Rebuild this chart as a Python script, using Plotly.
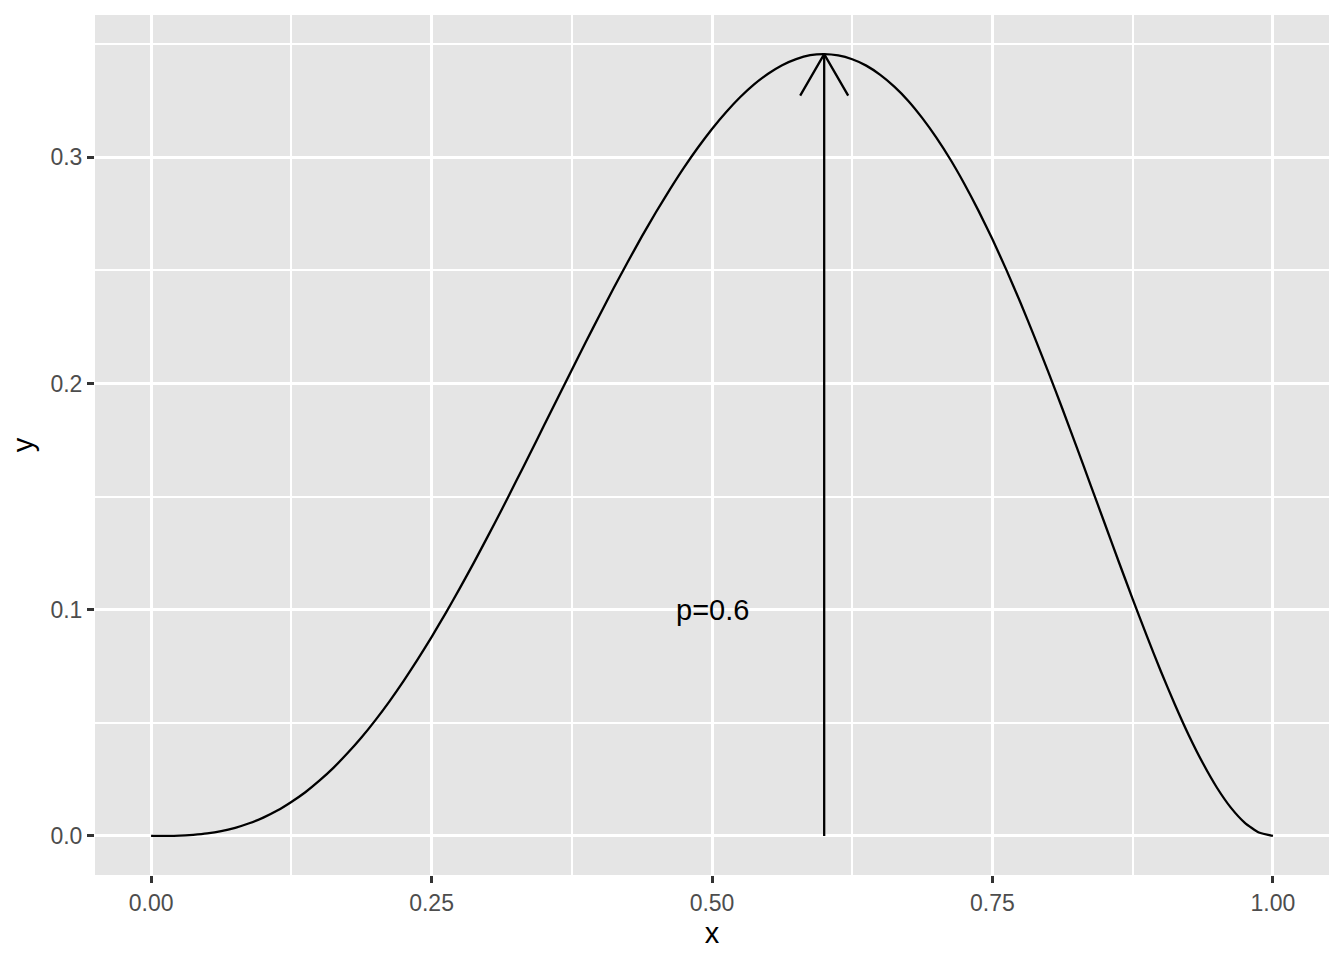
import plotly.graph_objects as go

# Curve values
x_vals = [0.0000, 0.0125, 0.0250, 0.0375, 0.0500, 0.0625, 0.0750, 0.0875, 0.1000, 0.1125,
          0.1250, 0.1375, 0.1500, 0.1625, 0.1750, 0.1875, 0.2000, 0.2125, 0.2250, 0.2375,
          0.2500, 0.2625, 0.2750, 0.2875, 0.3000, 0.3125, 0.3250, 0.3375, 0.3500, 0.3625,
          0.3750, 0.3875, 0.4000, 0.4125, 0.4250, 0.4375, 0.4500, 0.4625, 0.4750, 0.4875,
          0.5000, 0.5125, 0.5250, 0.5375, 0.5500, 0.5625, 0.5750, 0.5875, 0.6000, 0.6125,
          0.6250, 0.6375, 0.6500, 0.6625, 0.6750, 0.6875, 0.7000, 0.7125, 0.7250, 0.7375,
          0.7500, 0.7625, 0.7750, 0.7875, 0.8000, 0.8125, 0.8250, 0.8375, 0.8500, 0.8625,
          0.8750, 0.8875, 0.9000, 0.9125, 0.9250, 0.9375, 0.9500, 0.9625, 0.9750, 0.9875, 1.0000]
y_vals = [0.0000, 0.0000, 0.0001, 0.0005, 0.0011, 0.0021, 0.0036, 0.0056, 0.0081, 0.0112,
          0.0150, 0.0193, 0.0244, 0.0301, 0.0365, 0.0435, 0.0512, 0.0595, 0.0684, 0.0779,
          0.0879, 0.0984, 0.1093, 0.1206, 0.1323, 0.1442, 0.1564, 0.1687, 0.1812, 0.1936,
          0.2060, 0.2183, 0.2304, 0.2423, 0.2538, 0.2650, 0.2757, 0.2858, 0.2954, 0.3043,
          0.3125, 0.3199, 0.3265, 0.3322, 0.3369, 0.3407, 0.3434, 0.3451, 0.3456, 0.3450,
          0.3433, 0.3405, 0.3364, 0.3312, 0.3249, 0.3173, 0.3087, 0.2990, 0.2882, 0.2764,
          0.2637, 0.2501, 0.2357, 0.2205, 0.2048, 0.1886, 0.1720, 0.1551, 0.1382, 0.1213,
          0.1047, 0.0885, 0.0729, 0.0582, 0.0445, 0.0322, 0.0214, 0.0125, 0.0058, 0.0015, 0.0000]

# Arrow (from base to tip) and label
arrow_x = [0.6, 0.6]
arrow_y = [0.0, 0.3456]
label_text = "p=0.6"
label_x = 0.5
label_y = 0.1

x_ticks = [0.0, 0.25, 0.5, 0.75, 1.0]
y_ticks = [0.0, 0.1, 0.2, 0.3]

FONT = "Liberation Sans, Arial, Helvetica, sans-serif"
LW = 2.3

fig = go.Figure()
fig.add_trace(go.Scatter(x=x_vals, y=y_vals, mode="lines",
                         line=dict(color="black", width=LW, shape="spline", smoothing=0.5),
                         hoverinfo="skip", showlegend=False))
fig.add_trace(go.Scatter(x=arrow_x, y=arrow_y, mode="lines", line=dict(color="black", width=LW),
                         hoverinfo="skip", showlegend=False))

# Open arrowhead (ggplot-like), size in pixel terms converted to data units
ax_rng = [-0.05, 1.05]
ay_rng = [-0.01728, 0.36288]
ML, MR, MT, MB = 95, 15, 15, 85
plot_w = 1344 - ML - MR
plot_h = 960 - MT - MB
dx = 24 / (plot_w / (ax_rng[1] - ax_rng[0]))
dy = 41.6 / (plot_h / (ay_rng[1] - ay_rng[0]))
tx, ty = arrow_x[1], arrow_y[1]
fig.add_trace(go.Scatter(x=[tx - dx, tx, tx + dx], y=[ty - dy, ty, ty - dy], mode="lines",
                         line=dict(color="black", width=LW), hoverinfo="skip", showlegend=False))

fig.add_annotation(x=label_x, y=label_y, text=label_text, showarrow=False,
                   font=dict(family=FONT, size=29, color="black"), xanchor="center", yanchor="middle")

axis_common = dict(
    showgrid=True, gridcolor="white", gridwidth=3,
    zeroline=False, showline=False,
    ticks="outside", ticklen=7, tickwidth=2.5, tickcolor="#333333",
    tickfont=dict(family=FONT, size=23, color="#4d4d4d"),
)

fig.update_layout(
    width=1344, height=960,
    margin=dict(l=ML, r=MR, t=MT, b=MB),
    paper_bgcolor="white", plot_bgcolor="#E5E5E5",
    font=dict(family=FONT),
    hovermode=False,
    xaxis=dict(range=ax_rng, tickvals=x_ticks, tickformat=".2f",
               minor=dict(dtick=0.125, tick0=0.125, showgrid=True, gridcolor="white", gridwidth=1.5, ticks=""),
               title=dict(text="x", font=dict(family=FONT, size=29, color="black"), standoff=8),
               **axis_common),
    yaxis=dict(range=ay_rng, tickvals=y_ticks, tickformat=".1f",
               minor=dict(dtick=0.05, tick0=0.05, showgrid=True, gridcolor="white", gridwidth=1.5, ticks=""),
               title=dict(text="y", font=dict(family=FONT, size=29, color="black"), standoff=8),
               **axis_common),
)

fig.write_html("out.html", config={"displayModeBar": False},
               post_script="document.body.style.margin='0px';")
